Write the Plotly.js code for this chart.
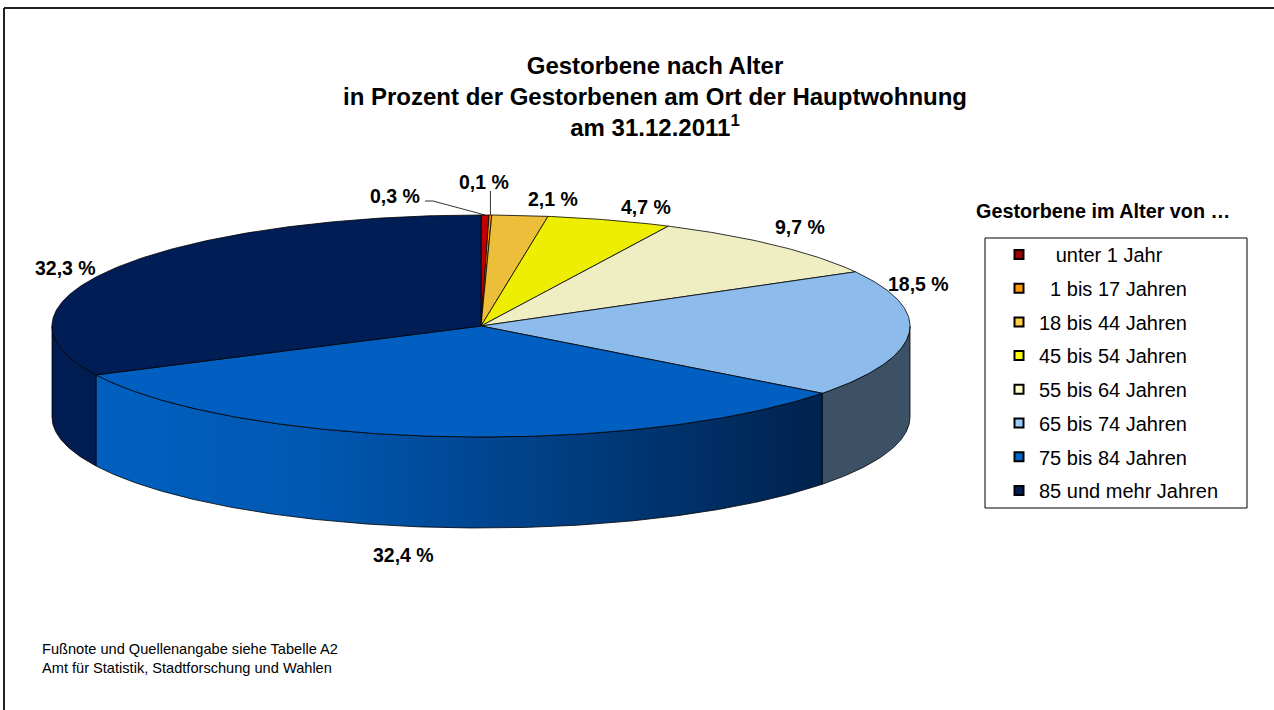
<!DOCTYPE html>
<html>
<head>
<meta charset="utf-8">
<script src="https://cdn.plot.ly/plotly-3.0.1.min.js"></script>
<style>
  html, body { margin: 0; padding: 0; background: #ffffff; }
  #chart { width: 1274px; height: 710px; }
</style>
</head>
<body>
<div id="chart"></div>
<script>
// ---- data ----
const categories = [
  'unter 1 Jahr', '1 bis 17 Jahren', '18 bis 44 Jahren', '45 bis 54 Jahren',
  '55 bis 64 Jahren', '65 bis 74 Jahren', '75 bis 84 Jahren', '85 und mehr Jahren'
];
const legendLabels = [
  '\u00A0\u00A0\u00A0unter 1 Jahr', '\u00A0\u00A01 bis 17 Jahren', '18 bis 44 Jahren', '45 bis 54 Jahren',
  '55 bis 64 Jahren', '65 bis 74 Jahren', '75 bis 84 Jahren', '85 und mehr Jahren'
];
const values = [0.3, 0.1, 2.1, 4.7, 9.7, 18.5, 32.4, 32.3];

// ---- style ----
const topColors  = ['#C00000', '#FF9900', '#EDBE3A', '#EEEE00', '#EEEEC2', '#8DBBEB', '#005FC0', '#001D55'];
const sideColors = ['#900000', '#C07000', '#B08A20', '#B0B000', '#B0B090', '#3D5166', '#005FC0', '#001C50'];
const legendColors = ['#A00000', '#FF9900', '#FFCC44', '#FFFF00', '#FFFFCC', '#99CCFF', '#0066CC', '#001D55'];
const FONT = 'Liberation Sans, Arial, sans-serif';

// geometry of the pie (pixel space of the 1274x710 figure)
const CX = 481, CY = 326, RX = 429, RY = 111, DEPTH = 91;

function pt(deg, dy) {
  const r = deg * Math.PI / 180;
  return [CX + RX * Math.sin(r), CY - RY * Math.cos(r) + (dy || 0)];
}
function arc(a1, a2, dy) {
  const n = Math.max(2, Math.ceil(Math.abs(a2 - a1) / 0.5));
  const xs = [], ys = [];
  for (let i = 0; i <= n; i++) {
    const p = pt(a1 + (a2 - a1) * i / n, dy);
    xs.push(p[0]); ys.push(p[1]);
  }
  return [xs, ys];
}

const total = values.reduce((a, b) => a + b, 0);
const bounds = [];
let cum = 0;
values.forEach(v => { const a1 = cum / total * 360; cum += v; bounds.push([a1, cum / total * 360]); });

const traces = [];
// side faces (front half only)
bounds.forEach((b, i) => {
  const s = Math.max(b[0], 90), e = Math.min(b[1], 270);
  if (s >= e) return;
  const top = arc(s, e, 0), bot = arc(e, s, DEPTH);
  const t = {
    type: 'scatter', mode: 'lines',
    x: top[0].concat(bot[0], [top[0][0]]),
    y: top[1].concat(bot[1], [top[1][0]]),
    fill: 'toself', fillcolor: sideColors[i],
    line: { color: '#000000', width: 0.8 },
    hoverinfo: 'skip', showlegend: false
  };
  if (i === 6) {
    t.fillgradient = { type: 'horizontal', colorscale: [[0, '#0060C0'], [0.3, '#0058B2'], [1, '#00224E']] };
  }
  traces.push(t);
});
// top faces
bounds.forEach((b, i) => {
  const a = arc(b[0], b[1], 0);
  traces.push({
    type: 'scatter', mode: 'lines',
    x: [CX].concat(a[0], [CX]),
    y: [CY].concat(a[1], [CY]),
    fill: 'toself', fillcolor: topColors[i],
    line: { color: '#000000', width: 0.8 },
    hoverinfo: 'skip', showlegend: false
  });
});
// legend entries
categories.forEach((c, i) => {
  traces.push({
    type: 'scatter', mode: 'markers', x: [null], y: [null],
    name: legendLabels[i], legendgroup: 'g' + i,
    marker: { symbol: 'square', size: 9, color: legendColors[i], line: { color: '#000000', width: 2 } },
    hoverinfo: 'skip', showlegend: true
  });
});

// data labels
const labelPos = [[395, 196], [484, 182], [553, 199], [646, 207], [800, 227], [918, 284], [403, 555], [65, 268]];
const fmt = v => v.toFixed(1).replace('.', ',') + ' %';
const annotations = values.map((v, i) => ({
  x: labelPos[i][0], y: labelPos[i][1], xref: 'x', yref: 'y',
  text: '<b>' + fmt(v) + '</b>', showarrow: false,
  xanchor: 'center', yanchor: 'middle',
  font: { family: FONT, size: 19.5, color: '#000000' }
}));
annotations.push({
  x: 974, y: 211, xref: 'x', yref: 'y', xanchor: 'left', yanchor: 'middle',
  text: '<b>Gestorbene im Alter von …</b>', showarrow: false,
  font: { family: FONT, size: 19.8, color: '#000000' }
});
annotations.push({
  x: 40, y: 658, xref: 'x', yref: 'y', xanchor: 'left', yanchor: 'middle', align: 'left',
  text: 'Fußnote und Quellenangabe siehe Tabelle A2<br>Amt für Statistik, Stadtforschung und Wahlen',
  showarrow: false, font: { family: FONT, size: 14.6, color: '#000000' }
});

// leader lines for the two smallest slices
const m0 = pt((bounds[0][0] + bounds[0][1]) / 2, 0);
const m1 = pt((bounds[1][0] + bounds[1][1]) / 2, 0);
const shapes = [
  { type: 'line', xref: 'x', yref: 'y', x0: 4, y0: 8, x1: 1280, y1: 8, line: { color: '#222', width: 2 } },
  { type: 'line', xref: 'x', yref: 'y', x0: 4, y0: 8, x1: 4, y1: 720, line: { color: '#222', width: 2 } },
  { type: 'rect', xref: 'x', yref: 'y', x0: 985, y0: 238, x1: 1247, y1: 508, line: { color: '#000', width: 1 } },
  { type: 'path', xref: 'x', yref: 'y', path: `M 425 201 L 433 201 L ${m0[0]} ${m0[1]}`, line: { color: '#000', width: 0.8 } },
  { type: 'line', xref: 'x', yref: 'y', x0: m1[0], y0: 191, x1: m1[0], y1: m1[1], line: { color: '#000', width: 0.8 } }
];

const layout = {
  width: 1274, height: 710,
  margin: { l: 0, r: 0, t: 0, b: 0 },
  paper_bgcolor: '#ffffff', plot_bgcolor: '#ffffff',
  xaxis: { range: [0, 1274], visible: false, fixedrange: true },
  yaxis: { range: [710, 0], visible: false, fixedrange: true },
  title: {
    text: '<b>Gestorbene nach Alter<br>in Prozent der Gestorbenen am Ort der Hauptwohnung<br>am 31.12.2011<sup>1</sup></b>',
    x: 655 / 1274, xanchor: 'center', y: 1 - 74 / 710, yanchor: 'top',
    font: { family: FONT, size: 24, color: '#000000' }
  },
  showlegend: true,
  legend: {
    x: 999 / 1274, xanchor: 'left', y: 1 - 235 / 710, yanchor: 'top',
    bgcolor: 'rgba(0,0,0,0)', borderwidth: 0, tracegroupgap: 4.7,
    font: { family: FONT, size: 20, color: '#000000' }
  },
  annotations: annotations,
  shapes: shapes,
  hovermode: false
};

Plotly.newPlot('chart', traces, layout, { displayModeBar: false, staticPlot: true });
</script>
</body>
</html>
